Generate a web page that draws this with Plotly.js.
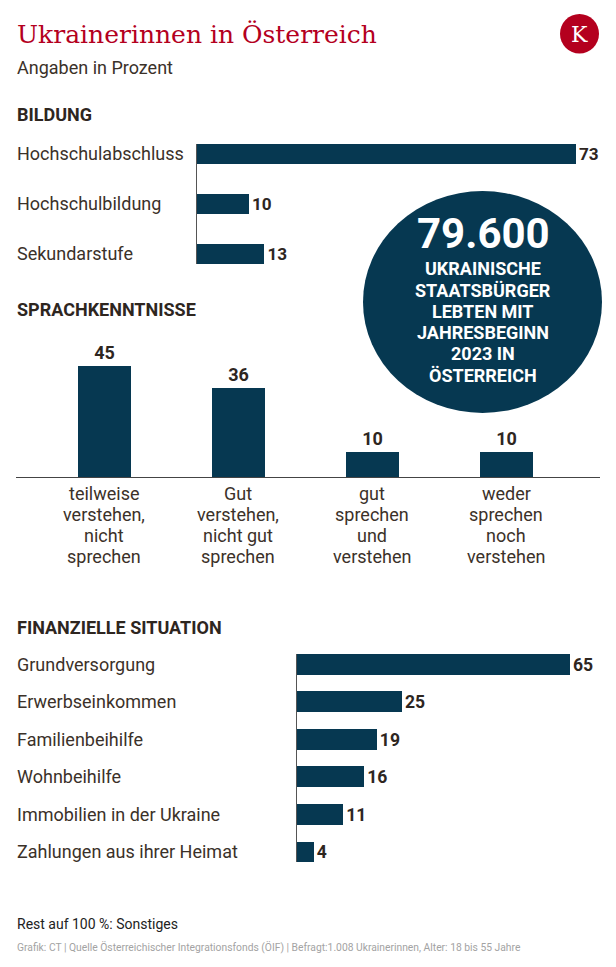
<!DOCTYPE html>
<html>
<head>
<meta charset="utf-8">
<script src="https://cdn.plot.ly/plotly-3.0.1.min.js"></script>
<style>html,body{margin:0;padding:0;background:#fff;}#chart{width:616px;height:967px;}</style>
</head>
<body>
<div id="chart"></div>
<script>
// ---- data ----
const titleText = 'Ukrainerinnen in Österreich';
const subtitleText = 'Angaben in Prozent';
const sectionTitles = ['BILDUNG', 'SPRACHKENNTNISSE', 'FINANZIELLE SITUATION'];

const bildungCats = ['Hochschulabschluss', 'Hochschulbildung', 'Sekundarstufe'];
const bildungVals = [73, 10, 13];

const sprachCats = [
  'teilweise<br>verstehen,<br>nicht<br>sprechen',
  'Gut<br>verstehen,<br>nicht gut<br>sprechen',
  'gut<br>sprechen<br>und<br>verstehen',
  'weder<br>sprechen<br>noch<br>verstehen'
];
const sprachVals = [45, 36, 10, 10];

const finanzCats = ['Grundversorgung', 'Erwerbseinkommen', 'Familienbeihilfe', 'Wohnbeihilfe', 'Immobilien in der Ukraine', 'Zahlungen aus ihrer Heimat'];
const finanzVals = [65, 25, 19, 16, 11, 4];

const bigNumber = '79.600';
const circleLines = ['UKRAINISCHE', 'STAATSBÜRGER', 'LEBTEN MIT', 'JAHRESBEGINN', '2023 IN', 'ÖSTERREICH'];

const noteText = 'Rest auf 100 %: Sonstiges';
const sourceText = 'Grafik: CT | Quelle Österreichischer Integrationsfonds (ÖIF) | Befragt:1.008 Ukrainerinnen, Alter: 18 bis 55 Jahre';
const logoText = 'K';

// ---- style ----
const W = 616, H = 967;
const px = v => v / W;
const py = v => 1 - v / H;
const BAR = '#063851';
const TXT = '#3b3129';
const RED = '#b4001e';
const SANS = 'Roboto, Arial, sans-serif';

const valFont = {family: SANS, size: 18, color: '#2e261f', weight: 700};

const traces = [
  {
    type: 'bar', orientation: 'h', x: bildungVals, y: bildungCats,
    xaxis: 'x', yaxis: 'y', width: 0.4,
    marker: {color: BAR},
    text: bildungVals.map(String), textposition: 'outside', textfont: valFont,
    cliponaxis: false, hoverinfo: 'skip'
  },
  {
    type: 'bar', x: sprachCats, y: sprachVals,
    xaxis: 'x2', yaxis: 'y2', width: 0.395,
    marker: {color: BAR},
    text: sprachVals.map(String), textposition: 'outside', textfont: valFont,
    cliponaxis: false, hoverinfo: 'skip'
  },
  {
    type: 'bar', orientation: 'h', x: finanzVals, y: finanzCats,
    xaxis: 'x3', yaxis: 'y3', width: 0.547,
    marker: {color: BAR},
    text: finanzVals.map(String), textposition: 'outside', textfont: valFont,
    cliponaxis: false, hoverinfo: 'skip'
  }
];

const hidden = {showgrid: false, zeroline: false, showticklabels: false, ticks: '', showline: false, fixedrange: true};

const annotations = [];
function ann(o) { annotations.push(Object.assign({showarrow: false}, o)); }

// Title, subtitle
ann({text: titleText, xref: 'paper', yref: 'paper', x: px(15), y: py(34), xanchor: 'left', yanchor: 'middle',
     font: {family: '"DejaVu Serif", serif', size: 25, color: RED}});
ann({text: subtitleText, xref: 'paper', yref: 'paper', x: px(15), y: py(68), xanchor: 'left', yanchor: 'middle',
     font: {family: SANS, size: 18, color: TXT}});
// section titles
[114, 309, 627].forEach((yy, i) => ann({text: sectionTitles[i], xref: 'paper', yref: 'paper', x: px(15), y: py(yy),
  xanchor: 'left', yanchor: 'middle', font: {family: SANS, size: 18, color: '#2e261f', weight: 700}}));

// category labels for horizontal bars
bildungCats.forEach(c => ann({text: c, xref: 'paper', yref: 'y', x: px(15), y: c, xanchor: 'left', yanchor: 'middle',
  font: {family: SANS, size: 18, color: TXT}}));
finanzCats.forEach(c => ann({text: c, xref: 'paper', yref: 'y3', x: px(15), y: c, xanchor: 'left', yanchor: 'middle',
  font: {family: SANS, size: 18, color: TXT}}));

// category labels for vertical bars, one line each
sprachCats.forEach(c => {
  c.split('<br>').forEach((line, j) => ann({text: line, xref: 'x2', yref: 'paper', x: c, y: py(493 + j * 21),
    xanchor: 'center', yanchor: 'middle', font: {family: SANS, size: 18, color: TXT}}));
});

// circle text
ann({text: bigNumber, xref: 'paper', yref: 'paper', x: px(483), y: py(233), xanchor: 'center', yanchor: 'middle',
     font: {family: SANS, size: 42, color: '#ffffff', weight: 700}});
circleLines.forEach((l, j) => ann({text: l, xref: 'paper', yref: 'paper', x: px(483), y: py(269 + j * 21.2),
  xanchor: 'center', yanchor: 'middle', font: {family: SANS, size: 18, color: '#ffffff', weight: 700}}));

// logo letter
ann({text: logoText, xref: 'paper', yref: 'paper', x: px(579.5), y: py(34), xanchor: 'center', yanchor: 'middle',
     font: {family: '"DejaVu Serif", serif', size: 22, color: '#ffffff'}});

// footer
ann({text: noteText, xref: 'paper', yref: 'paper', x: px(15), y: py(924), xanchor: 'left', yanchor: 'middle',
     font: {family: SANS, size: 14, color: '#222222'}});
ann({text: sourceText, xref: 'paper', yref: 'paper', x: px(15), y: py(947), xanchor: 'left', yanchor: 'middle',
     font: {family: SANS, size: 10.3, color: '#a3a3a3'}});

const shapes = [
  {type: 'circle', xref: 'paper', yref: 'paper', x0: px(363), x1: px(602), y0: py(413), y1: py(191),
   fillcolor: BAR, line: {width: 0}, layer: 'below'},
  {type: 'circle', xref: 'paper', yref: 'paper', x0: px(560), x1: px(599), y0: py(53.5), y1: py(14),
   fillcolor: RED, line: {width: 0}, layer: 'below'}
];

const layout = {
  width: W, height: H,
  margin: {l: 0, r: 0, t: 0, b: 0},
  paper_bgcolor: '#ffffff', plot_bgcolor: 'rgba(0,0,0,0)',
  showlegend: false, bargap: 0,
  xaxis: Object.assign({}, hidden, {domain: [px(197), 1], range: [0, 419 / 5.19], anchor: 'y'}),
  yaxis: {domain: [py(264), py(144)], type: 'category', range: [2.2, -0.2], anchor: 'x',
          showline: true, linecolor: '#555', linewidth: 1, showticklabels: false, ticks: '', showgrid: false, zeroline: false},
  xaxis2: {domain: [px(16), px(600)], type: 'category', range: [-0.6604, 3.6978], anchor: 'y2',
           showline: true, linecolor: '#444', linewidth: 1.2, showticklabels: false, ticks: '', showgrid: false, zeroline: false},
  yaxis2: Object.assign({}, hidden, {domain: [py(477), py(330)], range: [0, 147 / 2.47], anchor: 'x2'}),
  xaxis3: Object.assign({}, hidden, {domain: [px(297), 1], range: [0, 319 / 4.2], anchor: 'y3'}),
  yaxis3: {domain: [py(862), py(654)], type: 'category', range: [5.273, -0.273], anchor: 'x3',
           showline: true, linecolor: '#555', linewidth: 1, showticklabels: false, ticks: '', showgrid: false, zeroline: false},
  annotations: annotations,
  shapes: shapes
};

Plotly.newPlot('chart', traces, layout, {displayModeBar: false, staticPlot: true});
</script>
</body>
</html>
